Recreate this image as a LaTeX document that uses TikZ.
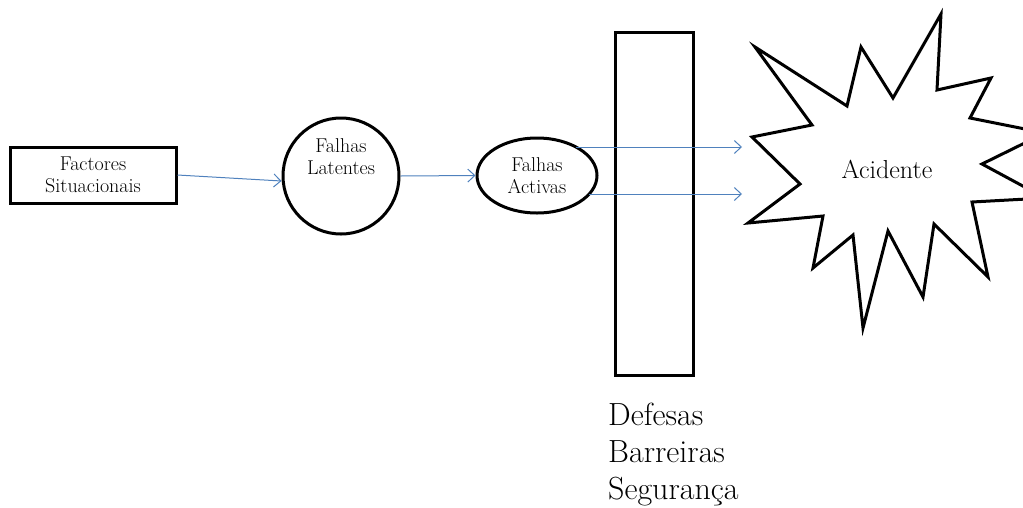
\documentclass[tikz,border=0pt]{standalone}
\usepackage{fontspec}
\setmainfont{Latin Modern Roman}
\usetikzlibrary{arrows.meta,shapes.geometric}
\begin{document}
\begin{tikzpicture}[x=1pt,y=-1pt,
  blk/.style={draw=black,line width=3pt},
  small/.style={font=\fontsize{20}{22}\selectfont,align=center},
  conn/.style={draw={rgb,255:red,79;green,129;blue,189},line width=1pt,
    -{Straight Barb[length=7pt,width=13pt,line width=1pt]}}]
\useasboundingbox (0,0) rectangle (1023,507);
% Factores
\node[blk,minimum width=166,minimum height=56,inner sep=0,small] (fac) at (93,175) {Factores\\Situacionais};
% Falhas Latentes
\node[blk,circle,minimum size=116,inner sep=0,
  label={[small,yshift=19pt,name=latt]center:Falhas\\Latentes}] (lat) at (341,176) {};
% Falhas Activas
\node[blk,ellipse,minimum width=120,minimum height=75,inner sep=0,small] (act) at (537,175.5) {Falhas\\Activas};
% Barrier
\node[blk,minimum width=78,minimum height=343,inner sep=0] (bar) at (654,203.5) {};
\node[anchor=north west,align=left,inner sep=0,font=\fontsize{32}{37}\selectfont] (def) at (608,403) {Defesas\\Barreiras\\Segurança};
% Starburst
\begin{scope}
\clip (0,0) rectangle (1023,507);
\draw[blk,line join=miter] (755,47) -- (847,106) -- (861,47) -- (893,98) -- (941,14) -- (937,90)
  -- (991,78) -- (970,118) -- (1045,133) -- (982,164) -- (1045,198) -- (972,202)
  -- (988,277) -- (934,224) -- (923,297) -- (888,231) -- (863,328) -- (853,235)
  -- (813,268) -- (823,216) -- (748,223) -- (800,184) -- (752,137) -- (812,125) -- cycle;
\end{scope}
\node[font=\fontsize{26}{28}\selectfont] (acc) at (887,169) {Acidente};
\coordinate (t1) at (742,147);
\coordinate (t2) at (742,194);
% Connectors
\draw[conn] (fac.east) -- (lat.west |- 0,181);
\draw[conn] (lat.east) -- (act.west);
\draw[conn] (act.center) ++(39,-28.5) coordinate (s1) -- (s1 -| t1);
\draw[conn] (act.center) ++(52,18.5) coordinate (s2) -- (s2 -| t2);
\end{tikzpicture}
\end{document}
